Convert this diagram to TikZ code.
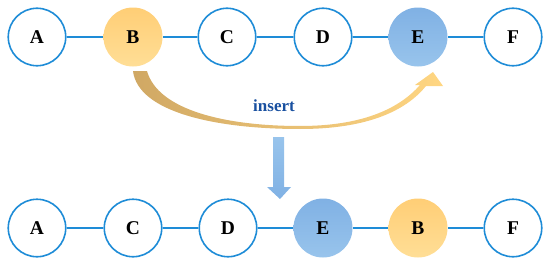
\documentclass[tikz,border=0pt]{standalone}
\usepackage{fontspec}
\setmainfont{Liberation Serif}
\usetikzlibrary{positioning, calc}
\definecolor{linkblue}{RGB}{30, 140, 215}
\definecolor{insblue}{RGB}{25, 80, 160}
\definecolor{goldtan}{RGB}{208, 168, 100}
\definecolor{goldlight}{RGB}{255, 214, 130}
\definecolor{pickorange}{RGB}{255, 206, 118}
\definecolor{pickorangelt}{RGB}{255, 222, 150}
\definecolor{pickblue}{RGB}{128, 177, 228}
\definecolor{pickbluelt}{RGB}{152, 196, 236}

\begin{document}
\begin{tikzpicture}[x=1pt, y=-1pt,
        elem/.style={circle, draw=linkblue, line width=1.6pt, fill=white,
            minimum size=57.5pt, inner sep=0pt,
            font=\fontsize{19.5}{19.5}\selectfont\bfseries},
        moved/.style={elem, draw=none, top color=pickorange, bottom color=pickorangelt,
            minimum size=59pt},
        target/.style={elem, draw=none, top color=pickblue, bottom color=pickbluelt,
            minimum size=59pt},
        link/.style={linkblue, line width=1.6pt}
    ]
    \useasboundingbox (0,0) rectangle (550,265);

    % before
    \node[elem]   (tA) at (37, 37)  {A};
    \node[moved]  (tB) at (133, 37) {B};
    \node[elem]   (tC) at (227, 37) {C};
    \node[elem]   (tD) at (323, 37) {D};
    \node[target] (tE) at (418, 37) {E};
    \node[elem]   (tF) at (513, 37) {F};

    \draw[link] (tA) -- (tB);
    \draw[link] (tB) -- (tC);
    \draw[link] (tC) -- (tD);
    \draw[link] (tD) -- (tE);
    \draw[link] (tE) -- (tF);

    % after
    \node[elem]   (bA) at (37, 228)  {A};
    \node[elem]   (bC) at (133, 228) {C};
    \node[elem]   (bD) at (228, 228) {D};
    \node[target] (bE) at (323, 228) {E};
    \node[moved]  (bB) at (418, 228) {B};
    \node[elem]   (bF) at (513, 228) {F};

    \draw[link] (bA) -- (bC);
    \draw[link] (bC) -- (bD);
    \draw[link] (bD) -- (bE);
    \draw[link] (bE) -- (bB);
    \draw[link] (bB) -- (bF);

    % curved insert arrow
    \shade[left color=goldtan, right color=goldlight]
        (133,71) .. controls (138,112) and (215,129) .. (300,129)
        .. controls (365,129) and (405,112) .. (426,86)
        -- (443,86) -- (433,72) -- (415,85) -- (420,85)
        .. controls (398,110) and (360,126) .. (300,126)
        .. controls (225,126) and (158,110) .. (147,71) -- cycle;
    \node[font=\fontsize{17}{17}\selectfont\bfseries, text=insblue] (ins) at (274, 106) {insert};

    % down arrow
    \shade[top color=pickbluelt, bottom color=pickblue]
        (273,137) -- (284,137) -- (284,187) -- (291,187) -- (280,199)
        -- (267,187) -- (273,187) -- cycle;

\end{tikzpicture}
\end{document}
